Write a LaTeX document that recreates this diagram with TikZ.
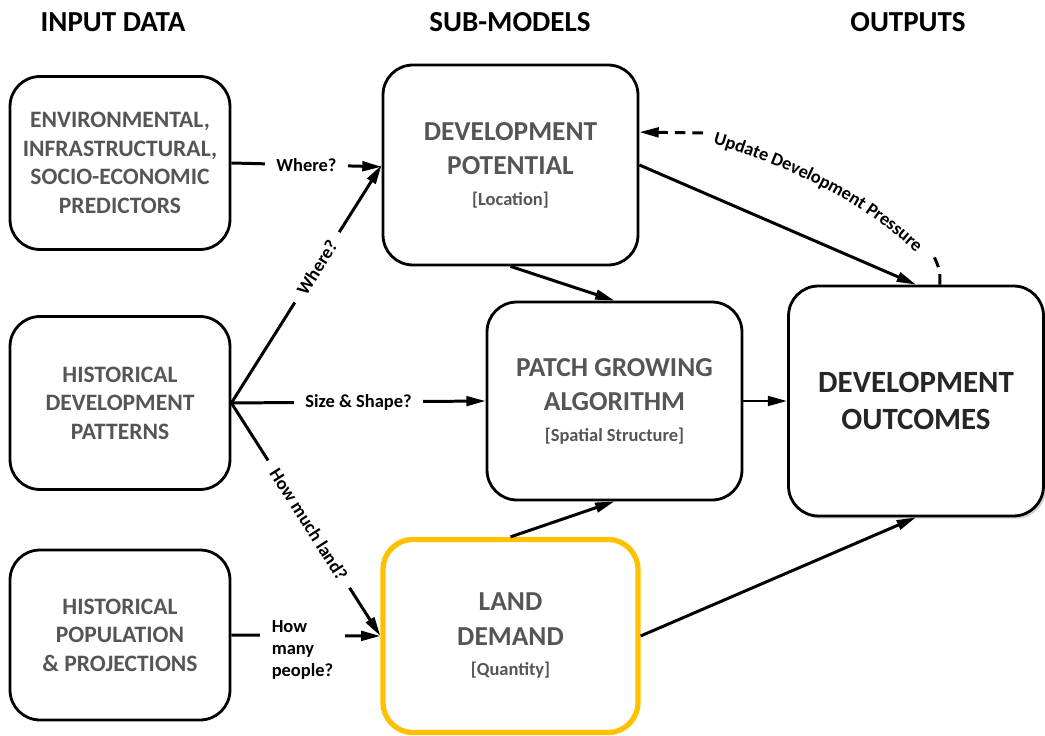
\documentclass[tikz,border=0pt]{standalone}
\usepackage{fontspec}
\setmainfont{Carlito}
\usetikzlibrary{arrows.meta,shadows,decorations.text}

\definecolor{boxgrey}{HTML}{555555}
\definecolor{demandorange}{HTML}{FFC000}
\newcommand{\lblfont}{\fontsize{10.5}{12.5}\bfseries\selectfont}
\newcommand{\subfont}{\fontsize{10.5}{12.5}\bfseries\selectfont}

\begin{document}
\begin{tikzpicture}[x=0.02cm, y=-0.02cm,
  header/.style={font=\fontsize{16.5}{19}\bfseries\selectfont},
  inbox/.style={draw, line width=1.6pt, rounded corners=17pt, align=center,
    text=boxgrey, minimum width=4.4cm, minimum height=3.46cm,
    font=\fontsize{13.4}{16.2}\bfseries\selectfont},
  subbox/.style={draw, line width=1.6pt, rounded corners=17pt, align=center,
    text=boxgrey, minimum width=5.1cm, font=\fontsize{15.6}{19.5}\bfseries\selectfont},
  conn/.style={line width=1.7pt, -{Triangle[length=11pt,width=5.5pt]}},
  lbl/.style={fill=white, font=\lblfont, inner xsep=6.5pt, inner ysep=1pt}]
  \useasboundingbox (0,0) rectangle (1045,736);

  % Column headers
  \node[header] (hdrin) at (113,22) {INPUT DATA};
  \node[header] (hdrsub) at (510,22) {SUB-MODELS};
  \node[header] (hdrout) at (908,22) {OUTPUTS};

  % Input data
  \node[inbox] (env) at (120,163) {ENVIRONMENTAL,\\INFRASTRUCTURAL,\\SOCIO-ECONOMIC\\PREDICTORS};
  \node[inbox] (histdev) at (120,403) {HISTORICAL\\DEVELOPMENT\\PATTERNS};
  \node[inbox, minimum height=3.4cm] (histpop) at (120,635) {HISTORICAL\\POPULATION\\\& PROJECTIONS};

  % Sub-models
  \node[subbox, minimum height=4cm] (devpot) at (510.5,165)
    {DEVELOPMENT\\POTENTIAL\\[-2pt]{\subfont [Location]}};
  \node[subbox, minimum height=3.96cm] (patch) at (614.5,401)
    {PATCH GROWING\\ALGORITHM\\[-2pt]{\subfont [Spatial Structure]}};
  \node[subbox, draw=demandorange, line width=3pt, minimum height=3.86cm] (land) at (510.5,636)
    {LAND\\DEMAND\\[-2pt]{\subfont [Quantity]}};

  % Output
  \node[draw, line width=1.6pt, rounded corners=17pt, fill=white, align=center,
    text=black!85, minimum width=5.1cm, minimum height=4.6cm,
    font=\fontsize{17.6}{21.5}\bfseries\selectfont,
    drop shadow={shadow xshift=1.5pt, shadow yshift=-1.5pt, fill=black!35}]
    (outcomes) at (916,401) {DEVELOPMENT\\OUTCOMES};

  % Input connectors
  \draw[conn] (env.east) -- node[lbl] (qwhere) {Where?} ([yshift=-1pt]devpot.west);
  \draw[conn] (histdev.east) -- node[lbl, sloped, pos=0.57] (qwhere2) {Where?} (devpot.west);
  \draw[conn] (histdev.east) -- node[lbl, pos=0.5] (qsize) {Size \& Shape?} (patch.west);
  \draw[conn] (histdev.east) -- node[lbl, sloped, pos=0.52] (qland) {How much land?} (land.west);
  \draw[conn] (histpop.east) -- node[lbl, align=left, pos=0.477, yshift=-8.5pt] (qpeople)
    {How\\many\\people?} (land.west);

  % Sub-model connectors
  \draw[conn] (devpot.south) -- (patch.north);
  \draw[conn] (land.north) -- (patch.south);
  \draw[conn] (patch.east) -- (outcomes.west);
  \draw[conn] (devpot.east) -- (outcomes.north);
  \draw[conn] (land.east) -- (outcomes.south);

  % Feedback loop
  \coordinate (updstart) at ([xshift=13.6pt]outcomes.north);
  \coordinate (updend) at ([yshift=18.7pt]devpot.east);
  \coordinate (updgap) at (933,254);
  \coordinate (updtxt) at (703,133);
  \draw[line width=1.7pt, dash pattern=on 6pt off 4pt] (updstart) .. controls (940,270) .. (updgap);
  \draw[conn, dash pattern=on 6pt off 4pt] (updtxt) -- (updend);
  \path[decorate, decoration={text along path, text align=center, raise=-3.5pt,
    text={|\lblfont|Update Development Pressure}}]
    (704,135) .. controls (785,158) and (868,195) .. (928,256);
\end{tikzpicture}
\end{document}
